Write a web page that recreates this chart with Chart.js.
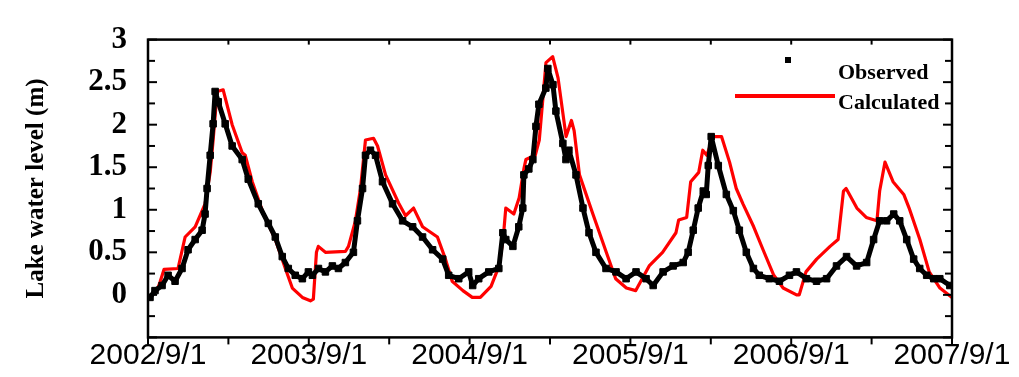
<!DOCTYPE html>
<html><head><meta charset="utf-8">
<script src="https://cdn.jsdelivr.net/npm/chart.js@4/dist/chart.umd.min.js"></script>
<style>html,body{margin:0;padding:0;background:#fff;} #wrap{position:relative;width:1019px;height:377px;}</style>
</head><body><div id="wrap"><canvas id="c" width="1019" height="377"></canvas></div>
<script>
// x values are months since 2002/9/1
const xTickLabels = ['2002/9/1','2003/9/1','2004/9/1','2005/9/1','2006/9/1','2007/9/1'];
const yTickLabels = ['0','0.5','1','1.5','2','2.5','3'];

const calcMonths = [0,0.67,0.9,1.2,2.24,2.77,3.52,4.26,4.64,4.86,5.16,5.61,6.28,7.03,7.26,7.78,8.53,9.5,10.25,10.77,11.52,12.12,12.34,12.57,12.71,13.24,14.73,14.96,15.48,15.86,16.23,16.83,17.13,17.73,18.7,19.22,19.82,20.49,21.6,22.2,22.7,23.5,24.2,24.8,25.6,26.2,26.5,26.7,27.3,27.7,28.05,28.2,28.9,29.2,29.7,30.2,30.6,31.2,31.6,31.8,32.2,33.2,34.2,34.9,35.7,36.4,37.4,38.4,39.4,39.6,40.2,40.5,41.1,41.4,41.7,42.2,42.8,43.4,43.9,44.4,45.2,45.9,46.7,47.4,48.4,48.6,49.1,49.9,50.9,51.5,51.9,52.1,52.9,53.6,54.4,54.6,55.0,55.6,56.4,56.8,57.6,58.3,59.1,60];
const calcLevels = [-0.03,0.05,0.15,0.3,0.31,0.68,0.8,1.07,1.44,1.82,2.39,2.41,2.0,1.67,1.64,1.33,0.99,0.65,0.31,0.08,-0.03,-0.07,-0.05,0.5,0.57,0.5,0.51,0.57,0.87,1.25,1.82,1.84,1.75,1.41,1.08,0.93,1.02,0.8,0.68,0.42,0.16,0.05,-0.03,-0.03,0.1,0.34,0.65,1.02,0.95,1.14,1.48,1.59,1.64,1.82,2.73,2.8,2.55,1.86,2.05,1.93,1.41,0.95,0.5,0.19,0.08,0.05,0.34,0.5,0.73,0.88,0.91,1.33,1.44,1.7,1.64,1.86,1.86,1.56,1.25,1.07,0.8,0.53,0.23,0.08,0.0,0.0,0.27,0.42,0.57,0.65,1.22,1.25,1.02,0.91,0.87,1.22,1.56,1.33,1.18,1.02,0.65,0.27,0.08,-0.03];

const obsMonths = [0.15,0.52,1.05,1.5,2.02,2.54,2.99,3.52,4.04,4.26,4.41,4.64,4.86,5.01,5.24,5.76,6.28,7.03,7.48,8.23,8.98,9.5,10.02,10.47,10.99,11.52,11.97,12.27,12.72,13.24,13.76,14.21,14.73,15.33,15.63,16.01,16.23,16.6,16.98,17.5,18.25,19.0,19.75,20.49,21.24,21.99,22.44,23.19,23.93,24.23,24.68,25.43,26.18,26.48,26.7,27.23,27.67,27.97,28.05,28.42,28.72,28.95,29.17,29.69,29.84,30.22,30.44,30.96,31.19,31.41,31.94,32.46,32.91,33.43,34.18,34.93,35.68,36.42,37.17,37.7,38.44,39.19,39.94,40.31,40.69,41.06,41.44,41.66,41.81,42.03,42.56,43.16,43.68,44.13,44.65,45.18,45.62,46.37,47.12,47.87,48.39,49.14,49.89,50.64,51.38,52.13,52.88,53.63,54.15,54.6,55.12,55.65,56.1,56.62,57.14,57.59,58.11,58.64,59.09,59.84];
const obsLevels = [-0.03,0.05,0.11,0.23,0.16,0.31,0.53,0.65,0.76,0.95,1.25,1.64,2.01,2.39,2.27,2.01,1.75,1.59,1.36,1.07,0.84,0.68,0.45,0.31,0.23,0.19,0.27,0.23,0.31,0.27,0.34,0.31,0.38,0.5,0.87,1.25,1.64,1.7,1.64,1.33,1.07,0.87,0.8,0.68,0.53,0.42,0.23,0.19,0.27,0.11,0.19,0.27,0.31,0.73,0.65,0.57,0.8,1.02,1.41,1.48,1.59,1.98,2.24,2.43,2.66,2.47,2.16,1.78,1.59,1.7,1.41,1.02,0.73,0.5,0.31,0.27,0.19,0.27,0.19,0.11,0.27,0.34,0.38,0.5,0.76,1.02,1.22,1.18,1.52,1.86,1.52,1.18,0.99,0.76,0.5,0.31,0.23,0.19,0.16,0.23,0.27,0.19,0.16,0.19,0.34,0.45,0.34,0.38,0.65,0.87,0.87,0.95,0.87,0.65,0.42,0.31,0.23,0.19,0.19,0.11];

const calcData = calcMonths.map((m,i)=>({x:m,y:calcLevels[i]}));
const obsData = obsMonths.map((m,i)=>({x:m,y:obsLevels[i]}));

const frame = {
  id:'frame',
  afterDraw(chart){
    const {ctx, chartArea:a, scales:{x,y}} = chart;
    ctx.save();
    ctx.strokeStyle='#000';
    ctx.lineWidth=2;
    const ln=(x1,y1,x2,y2)=>{ctx.beginPath();ctx.moveTo(x1,y1);ctx.lineTo(x2,y2);ctx.stroke();};
    y.ticks.forEach(t=>{
      const py=y.getPixelForValue(t.value);
      const major = Math.abs(t.value*2-Math.round(t.value*2))<1e-6;
      const L = major?9:7;
      ln(a.left,py,a.left+L,py);
      ln(a.right,py,a.right-L,py);
    });
    x.ticks.forEach(t=>{
      const px=x.getPixelForValue(t.value);
      ln(px,a.bottom,px,a.bottom+7);
      ln(px,a.top,px,a.top+5);
    });
    ctx.lineWidth=2.5;
    ctx.strokeRect(a.left,a.top,a.right-a.left,a.bottom-a.top);
    // legend
    ctx.fillStyle='#000';
    ctx.fillRect(785,57,6,6);
    ctx.strokeStyle='#ff0000';
    ctx.lineWidth=4;
    ln(735,96,835,96);
    ctx.font='bold 22px "Liberation Serif"';
    ctx.textAlign='left';
    ctx.textBaseline='middle';
    ctx.fillText('Observed',838,73);
    ctx.fillText('Calculated',838,103);
    ctx.restore();
  }
};

new Chart(document.getElementById('c'),{
  type:'scatter',
  data:{datasets:[
    {label:'Observed',data:obsData,order:0,showLine:true,borderColor:'#000',borderWidth:5,borderJoinStyle:'round',
     pointStyle:'rect',pointRadius:4.6,pointBackgroundColor:'#000',pointBorderColor:'#000',pointBorderWidth:1},
    {label:'Calculated',data:calcData,order:1,showLine:true,borderColor:'#ff0000',borderWidth:3.2,borderJoinStyle:'round',pointRadius:0}
  ]},
  options:{
    responsive:false,animation:false,
    layout:{padding:{left:22,right:67,top:33,bottom:0}},
    plugins:{legend:{display:false},tooltip:{enabled:false}},
    scales:{
      x:{type:'linear',min:0,max:60,
        grid:{display:false,drawTicks:false},border:{display:false},
        ticks:{stepSize:6,padding:0,maxRotation:0,autoSkip:false,color:'#000',
          font:{family:'"Liberation Sans"',size:30},
          callback:(v)=> (v%12===0 ? xTickLabels[v/12] : '')},
        afterFit:(s)=>{s.height=36;}
      },
      y:{type:'linear',min:-0.5,max:3,
        grid:{display:false,drawTicks:false},border:{display:false},
        title:{display:true,text:'Lake water level (m)',color:'#000',padding:0,
          font:{family:'"Liberation Serif"',size:25,weight:'bold'}},
        ticks:{stepSize:0.25,padding:21,autoSkip:false,color:'#000',
          font:{family:'"Liberation Serif"',size:31,weight:'bold'},
          callback:(v)=>{const r=Math.round(v*2)/2; if(Math.abs(v-r)>1e-6||v<0) return ''; return yTickLabels[Math.round(v*2)];}},
        afterFit:(s)=>{s.width=148-22;}
      }
    }
  },
  plugins:[frame]
});
</script></body></html>
